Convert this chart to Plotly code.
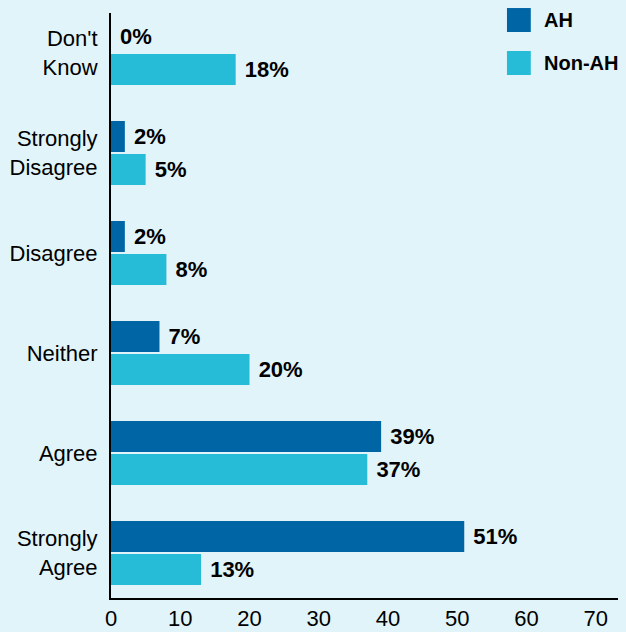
import plotly.graph_objects as go

# Survey responses, listed bottom to top on the chart
categories = ["Strongly<br>Agree", "Agree", "Neither", "Disagree", "Strongly<br>Disagree", "Don't<br>Know"]
ah_values = [51, 39, 7, 2, 2, 0]
non_ah_values = [13, 37, 20, 8, 5, 18]
series_names = ["AH", "Non-AH"]
x_ticks = [0, 10, 20, 30, 40, 50, 60, 70]

AH_COLOR = "#0065a5"
NON_AH_COLOR = "#26bbd7"
BG = "#e0f4f9"
FONT = "Liberation Sans"

label_font = dict(family=FONT, size=22, color="#000000", weight=700)

fig = go.Figure()
# Non-AH first so it sits below AH within each category group
fig.add_trace(go.Bar(
    y=categories, x=non_ah_values, orientation="h", name=series_names[1],
    marker=dict(color=NON_AH_COLOR, line=dict(width=0)),
    text=non_ah_values, texttemplate="\u00a0%{x}%", textposition="outside",
    textfont=label_font, cliponaxis=False, showlegend=False,
))
fig.add_trace(go.Bar(
    y=categories, x=ah_values, orientation="h", name=series_names[0],
    marker=dict(color=AH_COLOR, line=dict(width=0)),
    text=ah_values, texttemplate="\u00a0%{x}%", textposition="outside",
    textfont=label_font, cliponaxis=False, showlegend=False,
))

# Legend drawn as squares with labels in the upper right corner
legend_items = [(series_names[0], AH_COLOR, 0.9675, 1.0085),
                (series_names[1], NON_AH_COLOR, 0.894, 0.935)]
for name, color, y0, y1 in legend_items:
    fig.add_shape(type="rect", xref="paper", yref="paper",
                  x0=0.781, x1=0.828, y0=y0, y1=y1,
                  fillcolor=color, line=dict(width=0))
    fig.add_annotation(xref="paper", yref="paper", x=0.850, y=(y0 + y1) / 2,
                       text=name, showarrow=False, xanchor="left", yanchor="middle",
                       font=dict(family=FONT, size=20, color="#000000", weight=700))

fig.update_layout(
    width=626, height=632,
    paper_bgcolor=BG, plot_bgcolor=BG,
    margin=dict(l=111, r=8, t=13, b=34),
    barmode="group", bargap=0.34, bargroupgap=0.06,
    font=dict(family=FONT, size=22, color="#000000"),
    showlegend=False,
)
fig.update_xaxes(
    range=[0, 73.2], tickvals=x_ticks, showgrid=False, zeroline=False,
    showline=True, linecolor="#000000", linewidth=2,
    ticks="", ticklabelstandoff=0, automargin=False,
    tickfont=dict(family=FONT, size=22, color="#000000"),
)
fig.update_yaxes(
    categoryorder="array", categoryarray=categories,
    range=[-0.45, 5.4], showgrid=False, zeroline=False,
    showline=True, linecolor="#000000", linewidth=2,
    ticks="", ticklabelstandoff=7, automargin=False,
    tickfont=dict(family=FONT, size=22, color="#000000"),
)

fig.write_html("out.html")
